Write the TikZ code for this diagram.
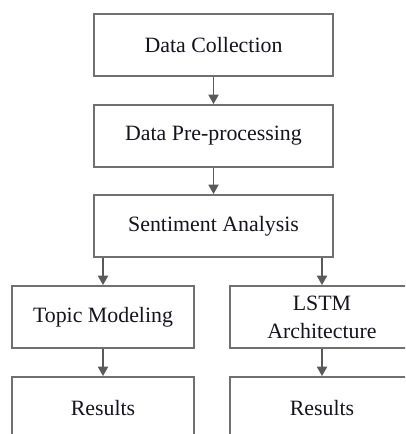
\documentclass[tikz,border=0pt]{standalone}
\usepackage{fontspec}
\setmainfont{Liberation Serif}
\usetikzlibrary{arrows.meta}
\definecolor{boxline}{RGB}{112,112,112}
\definecolor{arrowc}{RGB}{90,90,90}
\definecolor{txt}{RGB}{20,20,30}
\begin{document}
\begin{tikzpicture}[x=0.75pt,y=-0.75pt,
  box/.style={draw=boxline, line width=1.4pt, fill=white, text=txt, inner sep=0pt,
    font=\fontsize{16.4}{21}\selectfont, align=center},
  wide/.style={box, minimum width=179.25pt, minimum height=46.5pt},
  narrow/.style={box, minimum width=137pt, minimum height=46.5pt},
  conn/.style={draw=arrowc, line width=1.3pt, -{Triangle[width=7.5pt,length=7pt]}}]
\useasboundingbox (0,0) rectangle (405,434);
\clip (0,0) rectangle (405,434);
\fill[white] (0,0) rectangle (405,434);
\node[wide] (dc) at (213.5,45) {Data Collection};
\node[wide] (dp) at (213.5,136) {Data Pre-processing};
\node[wide] (sa) at (213.5,226) {Sentiment Analysis};
\node[narrow] (tm) at (103,317) {Topic Modeling};
\node[narrow, minimum width=138pt] (ls) at (322,317) {LSTM\\Architecture};
\node[narrow] (r1) at (103,408) {Results};
\node[narrow, minimum width=138pt] (r2) at (322,408) {Results};
\draw[conn] (dc.south) -- (dp.north);
\draw[conn] (dp.south) -- (sa.north);
\draw[conn] (tm.north |- sa.south) -- (tm.north);
\draw[conn] (ls.north |- sa.south) -- (ls.north);
\draw[conn] (tm.south) -- (r1.north);
\draw[conn] (ls.south) -- (r2.north);
\end{tikzpicture}
\end{document}
